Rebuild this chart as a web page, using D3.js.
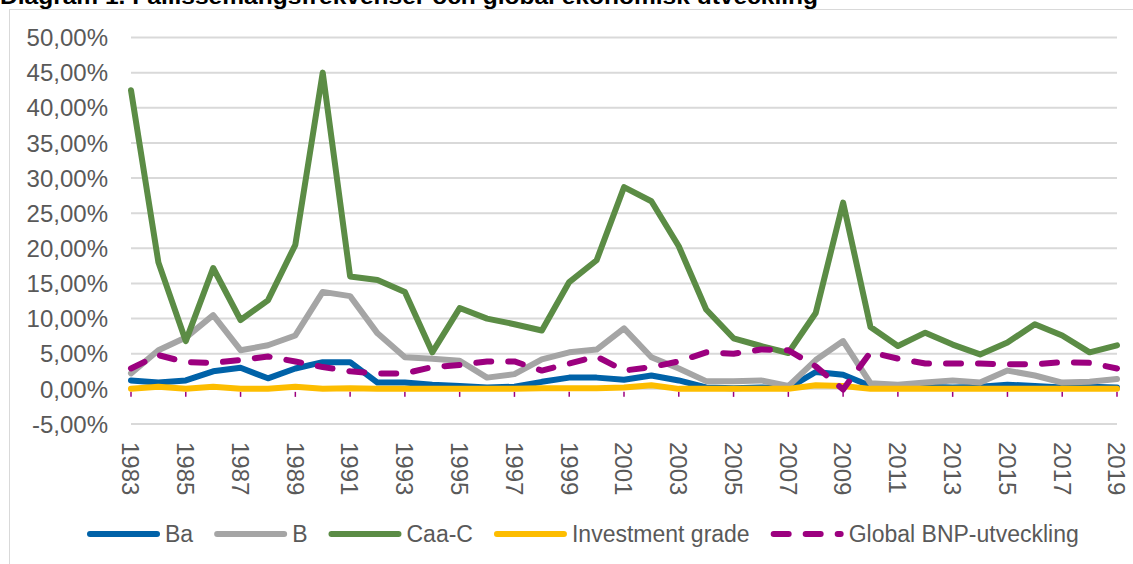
<!DOCTYPE html>
<meta charset="utf-8">
<style>
    body {margin: 0; background: #fff; font-family: "Liberation Sans", Arial, sans-serif;}
</style>
<svg width="1133" height="564"></svg>
<script src="https://cdn.jsdelivr.net/npm/d3@7"></script>
<script>

var years = d3.range(1983, 2020);

// default rates in percent
var ba = [1.2, 0.9, 1.2, 2.5, 3.0, 1.5, 2.9, 3.8, 3.8, 0.9, 0.9, 0.6, 0.4, 0.2, 0.3, 1.0, 1.6, 1.6, 1.3, 1.9, 1.2, 0.2,
          0.1, 0.2, 0.1, 2.4, 2.0, 0.4, 0.2, 0.3, 0.2, 0.3, 0.6, 0.4, 0.2, 0.3, 0.2];
var b = [2.2, 5.5, 7.3, 10.5, 5.5, 6.2, 7.6, 13.8, 13.2, 7.9, 4.5, 4.3, 4.0, 1.6, 2.1, 4.2, 5.2, 5.6, 8.6, 4.5, 2.9, 1.1,
         1.1, 1.2, 0.4, 4.1, 6.8, 0.8, 0.6, 0.9, 1.2, 0.9, 2.6, 1.9, 0.9, 1.0, 1.4];
var caac = [42.5, 18.0, 6.8, 17.2, 9.8, 12.6, 20.5, 45.0, 16.0, 15.5, 13.8, 5.2, 11.5, 10.0, 9.2, 8.3, 15.2, 18.3, 28.7, 26.7,
            20.3, 11.3, 7.2, 6.1, 5.1, 10.8, 26.5, 8.8, 6.1, 8.0, 6.3, 4.9, 6.6, 9.2, 7.6, 5.2, 6.2];
var invGrade = [0.0, 0.3, 0.0, 0.3, 0.0, 0.0, 0.3, 0.0, 0.1, 0.0, 0.0, 0.0, 0.0, 0.0, 0.0, 0.1, 0.1, 0.1, 0.2, 0.5, 0.0, 0.0,
                0.0, 0.0, 0.0, 0.5, 0.4, 0.0, 0.0, 0.0, 0.0, 0.0, 0.0, 0.0, 0.0, 0.0, 0.0];
var bnp = [2.9, 4.8, 3.8, 3.7, 4.1, 4.6, 3.9, 3.1, 2.5, 2.2, 2.2, 3.1, 3.4, 3.9, 3.9, 2.6, 3.6, 4.6, 2.6, 3.1, 3.9, 5.2,
           5.0, 5.6, 5.5, 3.2, -0.1, 5.2, 4.3, 3.6, 3.6, 3.6, 3.5, 3.5, 3.8, 3.7, 2.9];

var yTicks = d3.range(-5, 51, 5);
var xTickYears = years.filter(function(d) { return (d - 1983) % 2 === 0; });

var series = [
  {name: "Ba", values: ba, color: "#0062a8"},
  {name: "B", values: b, color: "#a5a5a5"},
  {name: "Caa-C", values: caac, color: "#5b8c45"},
  {name: "Investment grade", values: invGrade, color: "#fdbd00"},
  {name: "Global BNP-utveckling", values: bnp, color: "#9c007f", dash: "15,17"}
];

var svg = d3.select("svg");

var x = d3.scalePoint().domain(years).range([131, 1117]);
var y = d3.scaleLinear().domain([-5, 50]).range([424, 37.5]);

// chart frame
svg.append("rect")
    .attr("x", 9.5).attr("y", 9.5)
    .attr("width", 1140).attr("height", 600)
    .style("fill", "none").style("stroke", "#d9d9d9");

svg.append("text")
    .attr("x", 0).attr("y", 4)
    .attr("textLength", 818).attr("lengthAdjust", "spacingAndGlyphs")
    .style("font-weight", "bold").style("font-size", "22px").style("fill", "#000")
    .text("Diagram 1. Fallissemangsfrekvenser och global ekonomisk utveckling");

// grid
svg.append("g")
    .selectAll("line")
    .data(yTicks)
    .enter().append("line")
    .attr("x1", x(1983)).attr("x2", x(2019))
    .attr("y1", function(d) { return y(d); })
    .attr("y2", function(d) { return y(d); })
    .style("stroke", "#d9d9d9").style("stroke-width", 2);

svg.append("g")
    .selectAll("text")
    .data(yTicks)
    .enter().append("text")
    .attr("x", 108)
    .attr("y", function(d) { return y(d); })
    .attr("dy", "0.36em")
    .attr("text-anchor", "end")
    .style("font-size", "24px").style("fill", "#595959")
    .text(function(d) { return d3.format(".2f")(d).replace(".", ",").replace("\u2212", "-") + "%"; });

// tick marks + year labels
svg.append("g")
    .selectAll("line")
    .data(xTickYears)
    .enter().append("line")
    .attr("x1", function(d) { return x(d); })
    .attr("x2", function(d) { return x(d); })
    .attr("y1", y(0) + 3).attr("y2", y(0) + 8)
    .style("stroke", "#9c007f").style("stroke-width", 1.5);

svg.append("g")
    .selectAll("text")
    .data(xTickYears)
    .enter().append("text")
    .attr("transform", function(d) { return "translate(" + x(d) + ",442) rotate(90)"; })
    .attr("dy", "0.36em")
    .style("font-size", "24px").style("fill", "#595959")
    .text(function(d) { return d; });

var line = d3.line()
    .x(function(d, i) { return x(years[i]); })
    .y(function(d) { return y(d); });

svg.append("g")
    .selectAll("path")
    .data(series)
    .enter().append("path")
    .attr("d", function(d) { return line(d.values); })
    .style("fill", "none")
    .style("stroke", function(d) { return d.color; })
    .style("stroke-width", 6)
    .style("stroke-linejoin", "round")
    .style("stroke-linecap", "round")
    .style("stroke-dasharray", function(d) { return d.dash || null; });

// legend
var legend = svg.append("g").attr("class", "legend");
var lx = 87;
series.forEach(function(s) {
  legend.append("line")
      .attr("x1", lx + 3).attr("x2", lx + 70)
      .attr("y1", 534).attr("y2", 534)
      .style("stroke", s.color).style("stroke-width", 6)
      .style("stroke-linecap", "round")
      .style("stroke-dasharray", s.dash || null);
  var t = legend.append("text")
      .attr("x", lx + 78).attr("y", 534)
      .attr("dy", "0.36em")
      .style("font-size", "23px").style("fill", "#595959")
      .text(s.name);
  lx += 78 + t.node().getComputedTextLength() + 21;
});

</script>
